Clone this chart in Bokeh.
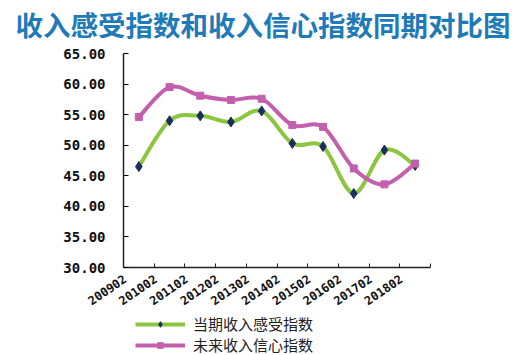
from bokeh.plotting import figure
from bokeh.layouts import column
from bokeh.models import (ColumnDataSource, FixedTicker, Legend, LegendItem, Title, Range1d)
from bokeh.embed import file_html
from bokeh.resources import INLINE

categories = ["200902", "201002", "201102", "201202", "201302",
              "201402", "201502", "201602", "201702", "201802"]
current_income = [46.5, 54.0, 54.8, 53.8, 55.6, 50.3, 49.8, 42.1, 49.2, 46.7]
future_income = [54.6, 59.5, 58.1, 57.4, 57.6, 53.3, 53.0, 46.2, 43.6, 47.0]
y_ticks = [30, 35, 40, 45, 50, 55, 60, 65]

GREEN = "#8cc63e"
PURPLE = "#c45fae"
NAVY = "#1c2f5c"

xs = [i + 0.5 for i in range(len(categories))]
label_pos = [x - 0.45 for x in xs]


def bezier_source(x, y):
    n = len(x)
    d = dict(x0=[], y0=[], x1=[], y1=[], cx0=[], cy0=[], cx1=[], cy1=[])
    for i in range(n - 1):
        xm, ym = (x[i - 1], y[i - 1]) if i > 0 else (x[i], y[i])
        xp, yp = (x[i + 2], y[i + 2]) if i + 2 < n else (x[i + 1], y[i + 1])
        d["x0"].append(x[i]); d["y0"].append(y[i])
        d["x1"].append(x[i + 1]); d["y1"].append(y[i + 1])
        d["cx0"].append(x[i] + (x[i + 1] - xm) / 6)
        d["cy0"].append(y[i] + (y[i + 1] - ym) / 6)
        d["cx1"].append(x[i + 1] - (xp - x[i]) / 6)
        d["cy1"].append(y[i + 1] - (yp - y[i]) / 6)
    return ColumnDataSource(d)


p = figure(width=519, height=320, output_backend="svg", toolbar_location=None,
           x_range=Range1d(0, 10), y_range=Range1d(30, 65),
           min_border_left=123, min_border_right=89, min_border_top=60,
           min_border_bottom=45)
p.styles = {"margin-top": "-8px"}
p.outline_line_color = None
p.xgrid.visible = False
p.ygrid.visible = False

title = Title(text="收入感受指数和收入信心指数同期对比图", align="left",
              text_font="Noto Sans CJK SC", text_font_size="27.5px",
              text_font_style="bold", text_color="#1f7ab8", offset=-108, standoff=19)
p.add_layout(title, "above")

line_kw1 = dict(line_color=GREEN, line_width=4)
mark_kw1 = dict(marker="diamond", size=10, fill_color=NAVY, line_color=NAVY)
line_kw2 = dict(line_color=PURPLE, line_width=4)
mark_kw2 = dict(marker="square", size=7, fill_color=PURPLE, line_color=PURPLE)

p.bezier("x0", "y0", "x1", "y1", "cx0", "cy0", "cx1", "cy1",
         source=bezier_source(xs, current_income), **line_kw1)
p.scatter(xs, current_income, **mark_kw1)
p.bezier("x0", "y0", "x1", "y1", "cx0", "cy0", "cx1", "cy1",
         source=bezier_source(xs, future_income), **line_kw2)
p.scatter(xs, future_income, **mark_kw2)

# y axis
ya = p.yaxis[0]
ya.ticker = FixedTicker(ticks=y_ticks)
ya.major_label_overrides = {t: f"{t:.2f}" for t in y_ticks}
ya.major_tick_in = 5
ya.major_tick_out = 0
ya.minor_tick_line_color = None
ya.major_label_text_font = "DejaVu Sans Mono"
ya.major_label_text_font_size = "14px"
ya.major_label_text_font_style = "bold"
ya.major_label_text_color = "#111111"
ya.major_label_standoff = 18
ya.axis_line_color = "#222222"
ya.axis_line_width = 1.5

# x axis
xa = p.xaxis[0]
xa.ticker = FixedTicker(ticks=label_pos, minor_ticks=list(range(1, 11)))
xa.major_label_overrides = {x: c for x, c in zip(label_pos, categories)}
xa.major_tick_in = 0
xa.major_tick_out = 0
xa.minor_tick_in = 4
xa.minor_tick_out = 0
xa.minor_tick_line_color = "#222222"
xa.major_label_orientation = 0.6
xa.major_label_text_font = "DejaVu Sans Mono"
xa.major_label_text_font_size = "12px"
xa.major_label_text_font_style = "bold"
xa.major_label_text_color = "#111111"
xa.major_label_standoff = 10
xa.axis_line_color = "#222222"
xa.axis_line_width = 1.5

# legend panel
lf = figure(width=519, height=43, output_backend="svg", toolbar_location=None,
            x_range=Range1d(0, 1), y_range=Range1d(0, 1),
            min_border_left=123, min_border_top=0, min_border_right=89,
            min_border_bottom=0)
lf.outline_line_color = None
lf.axis.visible = False
lf.xgrid.visible = False
lf.ygrid.visible = False
r1 = lf.line([-2, -1], [-2, -1], **line_kw1)
m1 = lf.scatter([-2], [-2], **mark_kw1)
r2 = lf.line([-2, -1], [-2, -1], **line_kw2)
m2 = lf.scatter([-2], [-2], **mark_kw2)

legend = Legend(items=[
    LegendItem(label="当期收入感受指数", renderers=[r1, m1]),
    LegendItem(label="未来收入信心指数", renderers=[r2, m2]),
], orientation="vertical", location=(12, 0),
    label_text_font="Noto Sans CJK SC", label_text_font_size="15px",
    label_text_color="#222222", glyph_width=50, glyph_height=14,
    spacing=0, padding=0, margin=0, border_line_color=None,
    background_fill_alpha=0, label_standoff=8, label_height=18)
lf.add_layout(legend)

layout = column(p, lf, spacing=0)
open("out.html", "w").write(file_html(layout, INLINE))
